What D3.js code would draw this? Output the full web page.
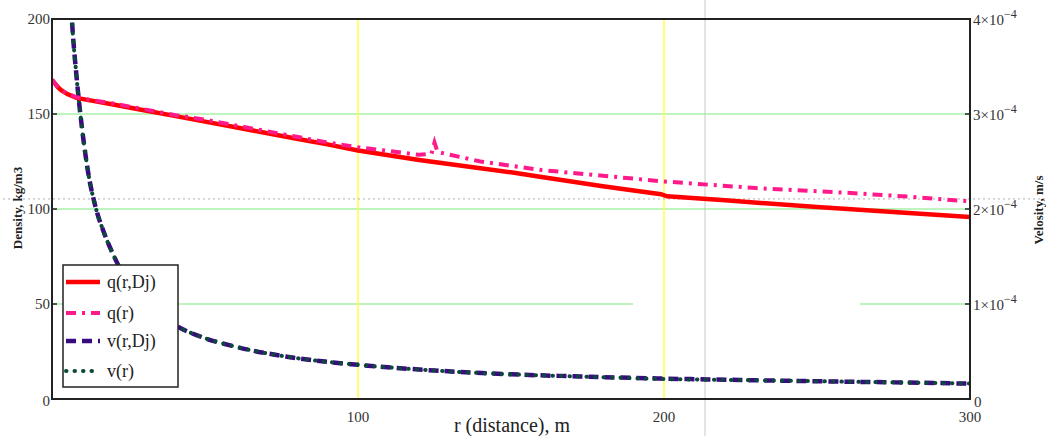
<!DOCTYPE html>
<html lang="en">
<head>
<meta charset="UTF-8" />
<title>Density and velocity vs distance</title>
<style>
  body { margin: 0; background: #fff; }
  svg text { font-family: "Liberation Serif", "DejaVu Serif", serif; }
</style>
</head>
<body>
<div class="chart"></div>
<script src="https://cdn.jsdelivr.net/npm/d3@7"></script>
<script>
// density q(r,Dj), kg/m3
var qDjR = [0, 1, 2, 3, 5, 8, 12, 20, 30, 40, 50, 60, 70, 80, 90, 100, 120, 140, 150, 160, 180, 199, 201, 220, 250, 280, 300];
var qDjV = [168, 166, 164, 162.5, 160.5, 158.5, 157.3, 155, 152, 149, 146, 143, 140, 137, 134, 130.8, 125.8, 121.5, 119.3, 116.8, 112, 107.8, 106.7, 104.6, 101, 97.9, 95.8];

// density q(r), kg/m3
var qR = [0, 1, 2, 3, 5, 8, 12, 20, 30, 40, 50, 60, 70, 80, 90, 100, 110, 120, 124, 125, 126, 140, 160, 180, 200, 230, 260, 280, 300];
var qV = [168, 166, 164, 162.5, 160.7, 158.8, 157.6, 155.5, 152.5, 149.5, 147, 144, 141, 138, 135, 132.5, 130.5, 128.5, 129, 135, 130, 125, 120.5, 117.5, 114.5, 111, 108.5, 106.5, 104];

// velocity v(r,Dj) and v(r), m/s
var vR = [6, 6.5, 8, 10, 12, 14, 17, 20, 25, 30, 40, 50, 60, 80, 100, 125, 150, 175, 200, 225, 250, 275, 300];
var vDjV = [4.3e-4, 4.0e-4, 3.4e-4, 2.8e-4, 2.35e-4, 2.05e-4, 1.75e-4, 1.52e-4, 1.22e-4, 1.02e-4, 0.78e-4, 0.64e-4, 0.55e-4, 0.43e-4, 0.36e-4, 0.30e-4, 0.26e-4, 0.235e-4, 0.215e-4, 0.2e-4, 0.187e-4, 0.175e-4, 0.162e-4];
var vV = [4.3e-4, 4.0e-4, 3.4e-4, 2.8e-4, 2.35e-4, 2.05e-4, 1.75e-4, 1.52e-4, 1.22e-4, 1.02e-4, 0.78e-4, 0.64e-4, 0.55e-4, 0.43e-4, 0.36e-4, 0.30e-4, 0.26e-4, 0.235e-4, 0.21e-4, 0.2e-4, 0.187e-4, 0.175e-4, 0.162e-4];

var xTicks = [100, 200, 300];
var yLeftTicks = [0, 50, 100, 150, 200];
var yRightTicks = [0, 1, 2, 3, 4];   // x 10^-4
var legendNames = ["q(r,Dj)", "q(r)", "v(r,Dj)", "v(r)"];

var serif = "'Liberation Serif', 'DejaVu Serif', serif";
var width = 1046, height = 436;
var plot = { left: 52, right: 970, top: 19, bottom: 399 };

var x = d3.scaleLinear().domain([0, 300]).range([plot.left, plot.right]);
var yL = d3.scaleLinear().domain([0, 200]).range([plot.bottom, plot.top]);
var yR = d3.scaleLinear().domain([0, 4e-4]).range([plot.bottom, plot.top]);

var svg = d3.select(".chart").append("svg")
  .attr("width", width)
  .attr("height", height)
  .attr("font-family", serif);

svg.append("clipPath").attr("id", "clip")
  .append("rect")
  .attr("x", plot.left).attr("y", plot.top)
  .attr("width", plot.right - plot.left)
  .attr("height", plot.bottom - plot.top);

// green grid lines
var grid = svg.append("g").attr("stroke", "#a8f0a8").attr("stroke-width", 1.5);
grid.append("line").attr("x1", plot.left).attr("x2", plot.right).attr("y1", yL(150)).attr("y2", yL(150));
grid.append("line").attr("x1", plot.left).attr("x2", plot.right).attr("y1", yL(100)).attr("y2", yL(100));
grid.append("line").attr("x1", plot.left).attr("x2", 633).attr("y1", yL(50)).attr("y2", yL(50));
grid.append("line").attr("x1", 860).attr("x2", plot.right).attr("y1", yL(50)).attr("y2", yL(50));

// yellow vertical lines
svg.append("g").selectAll("line")
  .data([100, 200])
  .enter().append("line")
  .attr("x1", function(d) { return x(d); })
  .attr("x2", function(d) { return x(d); })
  .attr("y1", plot.top).attr("y2", plot.bottom)
  .attr("stroke", "#ffff40").attr("stroke-width", 1.5);

// cursor lines
svg.append("line")
  .attr("x1", x(213.4)).attr("x2", x(213.4))
  .attr("y1", 0).attr("y2", height)
  .attr("stroke", "#c8c8c8").attr("stroke-width", 1);
svg.append("line")
  .attr("x1", 3).attr("x2", width)
  .attr("y1", yL(105.3)).attr("y2", yL(105.3))
  .attr("stroke", "#b0b0b0").attr("stroke-width", 1)
  .attr("stroke-dasharray", "2,3");

// curves
var curves = svg.append("g").attr("clip-path", "url(#clip)");

var lineL = d3.line()
  .x(function(d) { return x(d[0]); })
  .y(function(d) { return yL(d[1]); });
var lineR = d3.line()
  .x(function(d) { return x(d[0]); })
  .y(function(d) { return yR(d[1]); })
  .curve(d3.curveMonotoneX);

var series = [
  { name: "q(r,Dj)", data: d3.zip(qDjR, qDjV), line: lineL, color: "#ff0000", w: 4.5, dash: null, cap: "butt" },
  { name: "q(r)", data: d3.zip(qR, qV), line: lineL, color: "#ff1a8c", w: 4, dash: "10,6,3,6", cap: "butt" },
  { name: "v(r,Dj)", data: d3.zip(vR, vDjV), line: lineR, color: "#3a0a80", w: 4.5, dash: "10,6", cap: "butt" },
  { name: "v(r)", data: d3.zip(vR, vV), line: lineR, color: "#0b4a3a", w: 4, dash: "0.5,8", cap: "round" }
];

// velocities first, then the densities on top
[series[2], series[3], series[0], series[1]].forEach(function(s) {
  curves.append("path")
    .datum(s.data)
    .attr("d", s.line)
    .attr("fill", "none")
    .attr("stroke", s.color)
    .attr("stroke-width", s.w)
    .attr("stroke-linecap", s.cap)
    .attr("stroke-dasharray", s.dash);
});

// frame
svg.append("rect")
  .attr("x", plot.left).attr("y", plot.top)
  .attr("width", plot.right - plot.left)
  .attr("height", plot.bottom - plot.top)
  .attr("fill", "none")
  .attr("stroke", "#222").attr("stroke-width", 2);

// tick marks
svg.append("g").selectAll("line")
  .data(yLeftTicks.slice(1, 4))
  .enter().append("line")
  .attr("x1", plot.left).attr("x2", plot.left + 5)
  .attr("y1", function(d) { return yL(d); }).attr("y2", function(d) { return yL(d); })
  .attr("stroke", "#222").attr("stroke-width", 1.5);
svg.append("g").selectAll("line")
  .data(yRightTicks.slice(1, 4))
  .enter().append("line")
  .attr("x1", plot.right - 5).attr("x2", plot.right)
  .attr("y1", function(d) { return yR(d * 1e-4); }).attr("y2", function(d) { return yR(d * 1e-4); })
  .attr("stroke", "#222").attr("stroke-width", 1.5);

// left tick labels
svg.append("g").selectAll("text")
  .data(yLeftTicks)
  .enter().append("text")
  .attr("x", plot.left - 2)
  .attr("y", function(d) { return d === 0 ? yL(d) + 7 : yL(d) + 5; })
  .attr("text-anchor", "end")
  .attr("font-family", serif)
  .attr("font-size", 15)
  .attr("fill", "#333")
  .text(function(d) { return d; });

// x tick labels
svg.append("g").selectAll("text")
  .data(xTicks)
  .enter().append("text")
  .attr("x", function(d) { return x(d); })
  .attr("y", 422)
  .attr("text-anchor", "middle")
  .attr("font-family", serif)
  .attr("font-size", 15)
  .attr("fill", "#333")
  .text(function(d) { return d; });

// right tick labels
var rt = svg.append("g").selectAll("text")
  .data(yRightTicks)
  .enter().append("text")
  .attr("x", plot.right + 3)
  .attr("y", function(d) { return d === 0 ? yR(0) + 8 : yR(d * 1e-4) + 6; })
  .attr("font-family", serif)
  .attr("font-size", 15)
  .attr("fill", "#333");
rt.each(function(d) {
  var t = d3.select(this);
  if (d === 0) { t.attr("x", plot.right + 4).text("0"); return; }
  t.append("tspan").text(d + "\u00d710");
  t.append("tspan").attr("dy", -7).attr("font-size", 12).text("\u22124");
});

// axis titles
svg.append("text")
  .attr("x", 512).attr("y", 432)
  .attr("text-anchor", "middle")
  .attr("font-family", serif)
  .attr("font-size", 20)
  .attr("fill", "#222")
  .text("r (distance), m");

svg.append("text")
  .attr("transform", "translate(22,208) rotate(-90)")
  .attr("text-anchor", "middle")
  .attr("font-family", serif)
  .attr("font-size", 13)
  .attr("font-weight", "bold")
  .attr("fill", "#222")
  .text("Density, kg/m3");

svg.append("text")
  .attr("transform", "translate(1043,210) rotate(-90)")
  .attr("text-anchor", "middle")
  .attr("font-family", serif)
  .attr("font-size", 13)
  .attr("font-weight", "bold")
  .attr("fill", "#222")
  .text("Velosity, m/s");

// legend
var legend = svg.append("g");
legend.append("rect")
  .attr("x", 63).attr("y", 265)
  .attr("width", 115).attr("height", 122)
  .attr("fill", "#fff")
  .attr("stroke", "#222").attr("stroke-width", 1.5);

var legY = [282, 313, 341, 371];
series.forEach(function(s, i) {
  legend.append("line")
    .attr("x1", 66).attr("x2", 100)
    .attr("y1", legY[i]).attr("y2", legY[i])
    .attr("stroke", s.color)
    .attr("stroke-width", s.w)
    .attr("stroke-linecap", s.cap)
    .attr("stroke-dasharray", s.dash);
  legend.append("text")
    .attr("x", 107).attr("y", legY[i] + 6)
    .attr("font-family", serif)
    .attr("font-size", 18)
    .attr("fill", "#222")
    .text(legendNames[i]);
});
</script>
</body>
</html>
